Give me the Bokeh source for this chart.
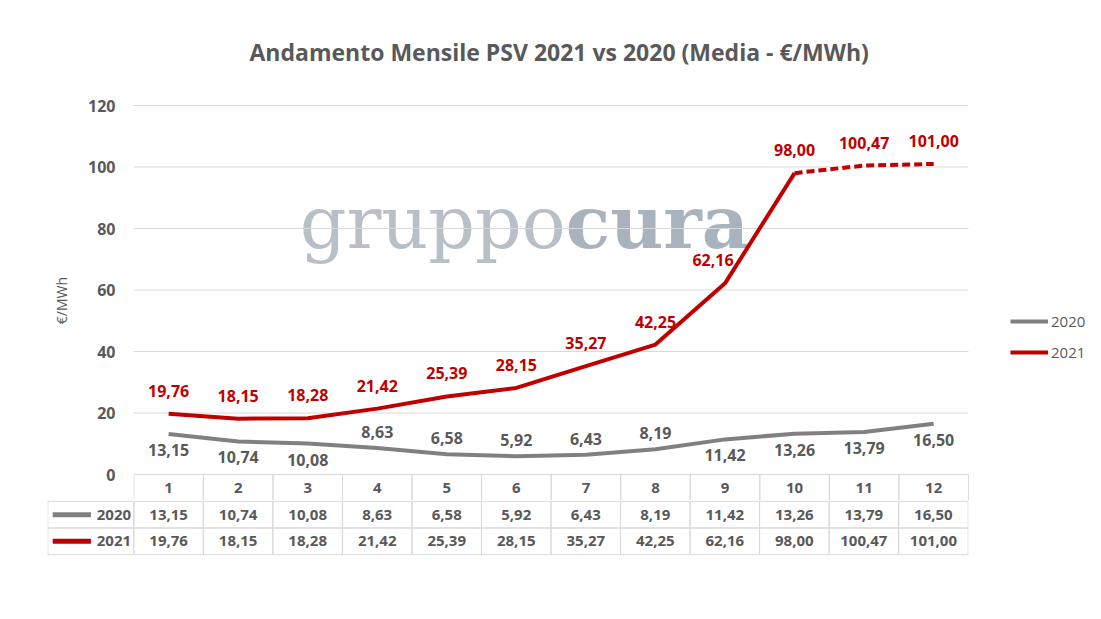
from bokeh.plotting import figure
from bokeh.models import Range1d, FixedTicker, Legend, LegendItem
from bokeh.layouts import column
from bokeh.embed import file_html
from bokeh.resources import INLINE
from bokeh.core.properties import value

# ---------------- data ----------------
months = [1, 2, 3, 4, 5, 6, 7, 8, 9, 10, 11, 12]
month_labels = ["1", "2", "3", "4", "5", "6", "7", "8", "9", "10", "11", "12"]
v2020 = [13.15, 10.74, 10.08, 8.63, 6.58, 5.92, 6.43, 8.19, 11.42, 13.26, 13.79, 16.50]
v2021 = [19.76, 18.15, 18.28, 21.42, 25.39, 28.15, 35.27, 42.25, 62.16, 98.00, 100.47, 101.00]
series_names = ["2020", "2021"]
last_actual_2021 = 10          # months after this one are drawn dashed
y_ticks = [0, 20, 40, 60, 80, 100, 120]
title_text = "Andamento Mensile PSV 2021 vs 2020 (Media - €/MWh)"
y_label = "€/MWh"
watermark = ["gruppo", "cura"]

# label placement (style only)
side_2020 = ["below", "below", "below", "above", "above", "above",
             "above", "above", "below", "below", "below", "below"]
dx_2021 = [0, 0, 0, 0, 0, 0, 0, 0, -12, 0, 0, 0]

GRAY = "#808080"
RED = "#c00000"
TXT = "#595959"
GRID = "#d9d9d9"
FONT = "Open Sans"


def fmt(v):
    return f"{v:.2f}".replace(".", ",")


W = 1101
PAD = 0.005
x_lo, x_hi = 0.5, 12.5
x_room = 1.913          # extra room right of the plot area, where the legend sits
# y-range: 0..120 plus room above and the table's header row below zero
y_hi = 121.63
y_lo = -8.455

# ---------------- main chart ----------------
p = figure(width=W, height=500, x_range=Range1d(x_lo - PAD, x_hi + x_room), y_range=Range1d(y_lo, y_hi),
           output_backend="svg", toolbar_location=None, x_axis_type=None, frame_align=False,
           min_border_left=133, min_border_right=0, min_border_top=100, min_border_bottom=0)
p.outline_line_color = None
p.background_fill_color = "white"
p.border_fill_color = "white"

p.title.text = title_text
p.title.text_font = FONT
p.title.text_font_style = "bold"
p.title.text_font_size = "23px"
p.title.text_color = TXT
p.title.align = "left"
p.title.vertical_align = "top"
p.title.offset = 116
p.title.standoff = 62

ax = p.yaxis[0]
ax.ticker = FixedTicker(ticks=y_ticks)
ax.axis_line_color = None
ax.major_tick_line_color = None
ax.minor_tick_line_color = None
ax.major_tick_out = 0
ax.major_tick_in = 0
ax.major_label_standoff = 18
ax.major_label_text_font = FONT
ax.major_label_text_font_style = "bold"
ax.major_label_text_font_size = "16px"
ax.major_label_text_color = TXT
ax.axis_label = y_label
ax.axis_label_text_font = FONT
ax.axis_label_text_font_style = "normal"
ax.axis_label_text_font_size = "14px"
ax.axis_label_text_color = TXT
ax.axis_label_standoff = 14

p.xgrid.visible = False
p.ygrid.visible = False

# watermark (drawn first so it sits under everything)
wm_x = 6.71
wm_y = 82.0
p.text([wm_x], [wm_y], text=[watermark[0]], text_align="right", text_baseline="alphabetic",
       text_font=value("DejaVu Serif"), text_font_size="73px", text_color="#b7bfc8")
p.text([wm_x], [wm_y], text=[watermark[1]], text_align="left", text_baseline="alphabetic",
       text_font=value("DejaVu Serif"), text_font_style="bold", text_font_size="73px",
       text_color="#a9b3bd")

# horizontal gridlines across the plot area only
p.segment(x0=[x_lo] * len(y_ticks), y0=y_ticks, x1=[x_hi] * len(y_ticks), y1=y_ticks,
          line_color=GRID, line_width=1)

# header row of the data table (month numbers), directly under the zero line
p.quad(left=[m - 0.5 for m in months], right=[m + 0.5 for m in months],
       top=[0] * 12, bottom=[y_lo] * 12, fill_color=None, line_color=GRID, line_width=1)
p.text(months, [y_lo / 2] * 12, text=month_labels, text_align="center", text_baseline="middle",
       text_font=value(FONT), text_font_style="bold", text_font_size="15px", text_color=TXT)

r2020 = p.line(months, v2020, line_color=GRAY, line_width=4)
k = last_actual_2021
r2021 = p.line(months[:k], v2021[:k], line_color=RED, line_width=4)
p.line(months[k - 1:], v2021[k - 1:], line_color=RED, line_width=4, line_dash="8 4")

p.text(months, v2021, text=[fmt(v) for v in v2021], text_align="center", text_baseline="middle",
       y_offset=-23, x_offset=dx_2021, text_font=value(FONT), text_font_style="bold",
       text_font_size="16px", text_color=RED)
p.text(months, v2020, text=[fmt(v) for v in v2020], text_align="center", text_baseline="middle",
       y_offset=[16 if s == "below" else -16 for s in side_2020], text_font=value(FONT),
       text_font_style="bold", text_font_size="16px", text_color=TXT)

legend = Legend(items=[LegendItem(label=series_names[0], renderers=[r2020]),
                       LegendItem(label=series_names[1], renderers=[r2021])],
                location=(877, 138), padding=0, margin=0, spacing=11,
                glyph_width=38, glyph_height=20, label_height=20, label_standoff=3,
                label_text_font=FONT, label_text_font_size="15px", label_text_color=TXT,
                border_line_color=None, background_fill_alpha=0)
p.add_layout(legend, "center")

# ---------------- data rows of the table ----------------
label_col = 1.237
t_lo = x_lo - label_col
t = figure(width=W, height=65, x_range=Range1d(t_lo - PAD, x_hi + PAD), y_range=Range1d(2.03, -0.03),
           output_backend="svg", toolbar_location=None, x_axis_type=None, y_axis_type=None,
           frame_align=False,
           min_border_left=47, min_border_right=133, min_border_top=0, min_border_bottom=10)
t.outline_line_color = None
t.xgrid.visible = False
t.ygrid.visible = False

for row in range(2):
    t.quad(left=[m - 0.5 for m in months], right=[m + 0.5 for m in months],
           top=[row] * 12, bottom=[row + 1] * 12, fill_color=None, line_color=GRID, line_width=1)
t.quad(left=[t_lo, t_lo], right=[x_lo, x_lo], top=[0, 1], bottom=[1, 2],
       fill_color=None, line_color=GRID, line_width=1)

cell_font = dict(text_font=value(FONT), text_font_style="bold", text_font_size="15px",
                 text_color=TXT, text_baseline="middle")
t.text(months, [0.5] * 12, text=[fmt(v) for v in v2020], text_align="center", **cell_font)
t.text(months, [1.5] * 12, text=[fmt(v) for v in v2021], text_align="center", **cell_font)
t.text([x_lo - 0.04] * 2, [0.5, 1.5], text=series_names, text_align="right", **cell_font)
t.segment(x0=[t_lo + 0.07] * 2, y0=[0.5, 1.5], x1=[t_lo + 0.62] * 2, y1=[0.5, 1.5],
          line_color=[GRAY, RED], line_width=5)

layout = column(p, t, spacing=0)
open("out.html", "w").write(file_html(layout, INLINE))
